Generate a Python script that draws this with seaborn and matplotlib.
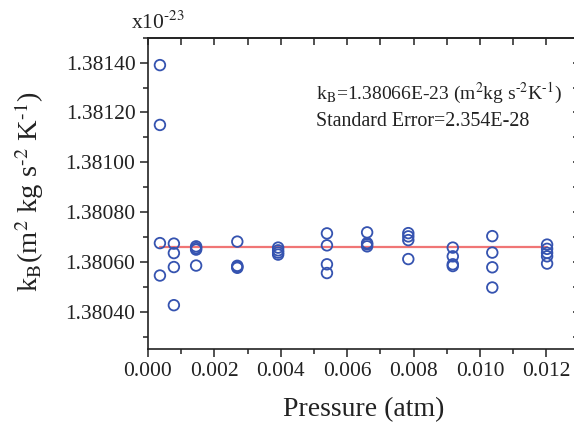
import numpy as np
import pandas as pd
import seaborn as sns
import matplotlib.pyplot as plt
from matplotlib.ticker import MultipleLocator, FormatStrFormatter

sns.set_style('ticks')
plt.rcParams['font.family'] = ['Liberation Serif', 'DejaVu Serif']
plt.rcParams['mathtext.fontset'] = 'stix'

# pressure (atm) of each measurement and the Boltzmann constant (x1e-23)
pressure = [0.00036] * 4 + [0.00078] * 4 + [0.00145] * 4 + [0.00269] * 4 \
    + [0.00392] * 4 + [0.00539] * 4 + [0.0066] * 4 + [0.00784] * 4 \
    + [0.00918] * 4 + [0.01037] * 4 + [0.01202] * 5
kb = [1.381390, 1.381150, 1.380676, 1.380546,
      1.380674, 1.380636, 1.380580, 1.380427,
      1.380663, 1.380656, 1.380650, 1.380586,
      1.380682, 1.380585, 1.380581, 1.380577,
      1.380658, 1.380647, 1.380638, 1.380630,
      1.380715, 1.380667, 1.380591, 1.380556,
      1.380719, 1.380676, 1.380671, 1.380663,
      1.380716, 1.380703, 1.380688, 1.380612,
      1.380658, 1.380623, 1.380591, 1.380584,
      1.380704, 1.380638, 1.380579, 1.380498,
      1.380670, 1.380653, 1.380637, 1.380623, 1.380594]

fit_pressure = [0.00036, 0.01202]
fit_kb = [1.38066, 1.38066]

df = pd.DataFrame({'pressure': pressure, 'kb': kb})
fit = pd.DataFrame({'pressure': fit_pressure, 'kb': fit_kb})

fig = plt.figure(figsize=(5.74, 4.23), dpi=100)
ax = fig.add_axes([0.2578, 0.1742, 0.752, 0.7367])

sns.lineplot(data=fit, x='pressure', y='kb', ax=ax, color='#f07575', lw=1.6, zorder=1)
sns.scatterplot(data=df, x='pressure', y='kb', ax=ax, marker='o', s=58,
                facecolor='none', edgecolor='#3553b0', linewidth=1.3, zorder=2)

ax.set_xlim(0, 0.013)
ax.set_ylim(1.38025, 1.3815)

ax.xaxis.set_major_locator(MultipleLocator(0.002))
ax.xaxis.set_minor_locator(MultipleLocator(0.001))
ax.xaxis.set_major_formatter(FormatStrFormatter('%.3f'))
ax.yaxis.set_major_locator(MultipleLocator(0.0002))
ax.yaxis.set_minor_locator(MultipleLocator(0.0001))
ax.yaxis.set_major_formatter(FormatStrFormatter('%.5f'))

ax.tick_params(which='major', direction='out', length=6, width=1.1,
               labelsize=15.5, colors='#222222', pad=3)
ax.tick_params(which='minor', direction='out', length=3.5, width=1.1, colors='#222222')

for s in ax.spines.values():
    s.set_linewidth(1.2)
    s.set_color('#222222')

# mirrored inward ticks on top and right
top = ax.secondary_xaxis('top')
top.xaxis.set_major_locator(MultipleLocator(0.002))
top.xaxis.set_minor_locator(MultipleLocator(0.001))
top.tick_params(which='both', direction='in', length=5, width=1.1, labeltop=False, colors='#222222')
top.spines['top'].set_linewidth(1.2)
right = ax.secondary_yaxis('right')
right.yaxis.set_major_locator(MultipleLocator(0.0002))
right.yaxis.set_minor_locator(MultipleLocator(0.0001))
right.tick_params(which='both', direction='in', length=5, width=1.1, labelright=False, colors='#222222')

ax.set_xlabel('Pressure (atm)', fontsize=20, color='#222222', labelpad=12)
ax.set_ylabel('k$_\\mathrm{B}$(m$^2$ kg s$^{\u2010 2}$ K$^{\u2010 1}$)', fontsize=20.5, color='#222222')
ax.yaxis.set_label_coords(-0.236, 0.505)

ax.text(-0.04, 1.012, 'x10$^{\u2010 23}$', transform=ax.transAxes, fontsize=15.5,
        color='#222222', ha='left', va='bottom')
ax.text(0.39, 0.82, 'k$_\\mathrm{B}$=1.38066E-23 (m$^2$kg s$^{\u2010 2}$K$^{\u2010 1}$)',
        transform=ax.transAxes, fontsize=14, color='#222222', va='center')
ax.text(0.39, 0.73, 'Standard Error=2.354E-28',
        transform=ax.transAxes, fontsize=14.4, color='#222222', va='center')

fig.savefig('out.png', dpi=100)
